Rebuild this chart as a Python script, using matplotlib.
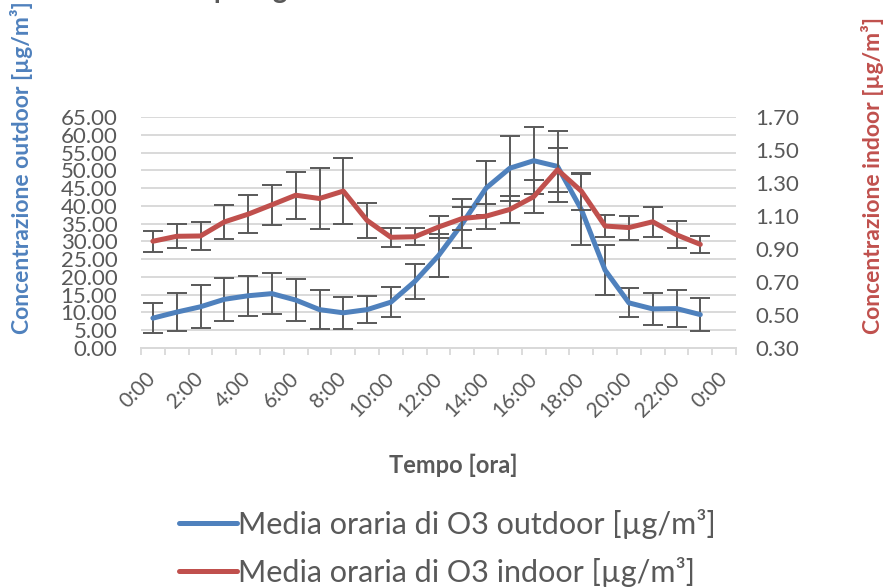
import matplotlib.pyplot as plt
from matplotlib.lines import Line2D
import numpy as np

plt.rcParams['font.family'] = ['Lato', 'DejaVu Sans']

categories = ['0:00', '1:00', '2:00', '3:00', '4:00', '5:00', '6:00', '7:00',
              '8:00', '9:00', '10:00', '11:00', '12:00', '13:00', '14:00', '15:00',
              '16:00', '17:00', '18:00', '19:00', '20:00', '21:00', '22:00', '23:00',
              '0:00']

outdoor = [8.4, 10.1, 11.6, 13.7, 14.7, 15.3, 13.5, 10.8, 9.9, 10.8, 12.9, 18.7,
           26.0, 35.0, 45.0, 50.6, 52.7, 51.1, 39.0, 21.9, 12.7, 11.0, 11.1, 9.4]
outdoor_err = [4.3, 5.3, 6.1, 6.1, 5.7, 5.7, 5.9, 5.4, 4.5, 3.7, 4.3, 5.0,
               6.0, 6.8, 7.5, 9.1, 9.5, 9.9, 10.0, 7.1, 4.1, 4.6, 5.3, 4.6]

indoor = [0.947, 0.977, 0.979, 1.064, 1.111, 1.168, 1.226, 1.206, 1.251, 1.073, 0.971, 0.974,
          1.033, 1.085, 1.099, 1.140, 1.217, 1.380, 1.251, 1.039, 1.030, 1.065, 0.986, 0.928]
indoor_err = [0.065, 0.072, 0.086, 0.105, 0.115, 0.122, 0.143, 0.183, 0.198, 0.108, 0.058, 0.051,
              0.066, 0.071, 0.076, 0.081, 0.099, 0.133, 0.112, 0.066, 0.073, 0.091, 0.081, 0.050]

blue = '#4F81BD'
red = '#C0504D'
grey = '#595959'

fig = plt.figure(figsize=(8.91, 5.87), dpi=100)
ax = fig.add_axes([141/891, 1 - 348/587, 595/891, 231/587])
ax2 = ax.twinx()

x = np.arange(len(outdoor))
ax.errorbar(x, outdoor, yerr=outdoor_err, color=blue, lw=3.6, ecolor=grey,
            elinewidth=1.4, capsize=7, capthick=1.4, solid_capstyle='round')
ax2.errorbar(x, indoor, yerr=indoor_err, color=red, lw=3.6, ecolor=grey,
             elinewidth=1.4, capsize=7, capthick=1.4, solid_capstyle='round')

ax.set_xlim(-0.5, len(categories) - 0.5)
ax.set_ylim(0, 65)
ax.set_yticks(np.arange(0, 66, 5))
ax.set_yticklabels(['%.2f' % v for v in np.arange(0, 66, 5)])
ax2.set_ylim(0.3, 1.7)
ax2.set_yticks(np.arange(0.3, 1.71, 0.2))
ax2.set_yticklabels(['%.2f' % v for v in np.arange(0.3, 1.71, 0.2)])

ax.yaxis.grid(True, color='#D9D9D9', lw=1.4)
ax.set_axisbelow(True)

# category labels every 2 hours, tick marks between categories
ax.set_xticks(np.arange(0, len(categories), 2))
ax.set_xticklabels(categories[::2], rotation=45, ha='right', va='center',
                   rotation_mode='anchor')
ax.set_xticks(np.arange(-0.5, len(categories), 1), minor=True)
ax.tick_params(axis='x', which='major', length=0, pad=20, labelsize=15, colors=grey)
ax.tick_params(axis='x', which='minor', length=5, width=1.3, color='#D9D9D9')
ax.tick_params(axis='y', length=0, labelsize=16, colors=grey, pad=17)
ax2.tick_params(axis='y', length=0, labelsize=16, colors=grey, pad=14)

for a in (ax, ax2):
    for s in ['top', 'left', 'right']:
        a.spines[s].set_visible(False)
    a.spines['bottom'].set_color('#D9D9D9')
    a.spines['bottom'].set_linewidth(1.4)

fig.text(453/891, 1 - 465/587, 'Tempo [ora]', ha='center', va='center',
         fontsize=17, fontweight='bold', color=grey)
fig.text(22/891, 1 - 168/587, 'Concentrazione outdoor [µg/m³]', rotation=90,
         ha='center', va='center', fontsize=16.5, fontweight='bold', color=blue)
fig.text(872/891, 1 - 175/587, 'Concentrazione indoor [µg/m³]', rotation=90,
         ha='center', va='center', fontsize=16.5, fontweight='bold', color=red)

# title mostly cut off at the top edge, only descenders show
fig.text(45/891, 1.003, 'Andamento tipico giornaliero di O3 outdoor e indoor',
         ha='left', va='baseline', fontsize=20, fontweight='bold', color=grey)

handles = [Line2D([], [], color=blue, lw=3.6, solid_capstyle='round'),
           Line2D([], [], color=red, lw=3.6, solid_capstyle='round')]
fig.legend(handles, ['Media oraria di O3 outdoor [µg/m³]', 'Media oraria di O3 indoor [µg/m³]'],
           loc='center left', bbox_to_anchor=(151/891, 1 - 548/587), frameon=False,
           fontsize=22, handlelength=1.9, handletextpad=0.05, labelspacing=0.6,
           labelcolor=grey)

fig.savefig('out.png', dpi=100)
